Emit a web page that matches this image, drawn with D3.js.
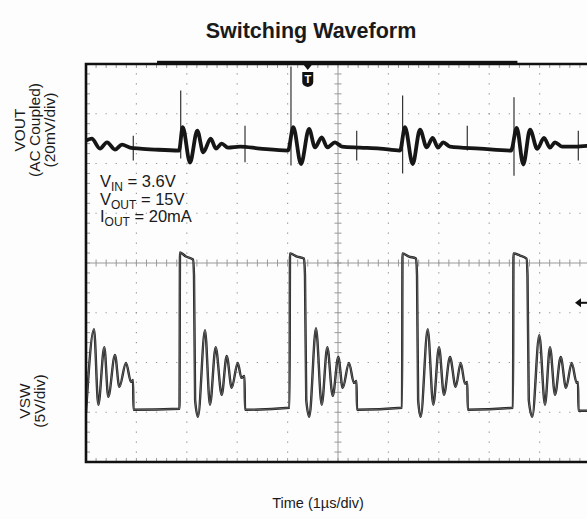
<!DOCTYPE html>
<html><head><meta charset="utf-8">
<script src="https://cdn.jsdelivr.net/npm/d3@7"></script>
<style>
html,body{margin:0;padding:0;background:#fdfdfd;}
svg{display:block;font-family:"Liberation Sans",Arial,Helvetica,sans-serif;}
</style>
</head><body>
<svg id="c" width="587" height="519"></svg>
<script>
// ---------- text ----------
const title = "Switching Waveform";
const xLabel = "Time (1µs/div)";
const voutLabel = ["VOUT", "(AC Coupled)", "(20mV/div)"];
const vswLabel = ["VSW", "(5V/div)"];
const notes = [["V", "IN", " = 3.6V"], ["V", "OUT", " = 15V"], ["I", "OUT", " = 20mA"]];

// ---------- data : VSW (time µs, volts) ----------
const vswT = [0.00,0.159,0.244,0.363,0.442,0.575,0.661,0.794,0.893,0.933,0.942,1.855,
  1.865,1.984,2.123,2.143,2.165,2.222,2.361,2.460,2.573,2.692,2.792,2.891,3.010,3.085,3.145,3.155,4.038,
  4.048,4.187,4.325,4.345,4.370,4.431,4.563,4.677,4.788,4.895,5.006,5.093,5.218,5.317,5.367,5.377,6.270,
  6.280,6.409,6.548,6.568,6.590,6.641,6.780,6.891,7.004,7.103,7.222,7.335,7.435,7.520,7.565,7.575,8.472,
  8.482,8.611,8.740,8.760,8.785,8.855,8.994,9.107,9.206,9.306,9.419,9.524,9.637,9.736,9.762,9.772,10.0];
const vswV = [-0.3,8.1,0.5,6.3,1.3,5.5,2.3,4.7,2.8,3.0,0.0,0.1,
  15.8,15.4,15.1,13.5,1.0,-0.7,8.0,0.5,6.3,1.5,5.4,2.2,4.7,3.2,3.4,0.0,0.2,
  15.7,15.4,15.2,13.5,1.0,-0.7,8.2,0.5,6.3,1.4,5.3,2.2,4.7,2.7,2.9,0.0,0.2,
  15.7,15.4,15.2,13.5,1.0,-0.7,8.1,0.5,6.3,1.5,5.3,2.3,4.7,2.6,2.8,0.0,0.2,
  15.7,15.5,15.2,13.5,1.0,-0.7,7.5,0.5,6.3,1.5,5.3,2.2,4.7,2.7,2.8,-0.1,-0.1];

// ---------- data : VOUT (time µs, mV, AC coupled) ----------
const voutT = [0.000,0.113,0.278,0.417,0.575,0.714,0.873,1.071,1.369,1.845,
  1.919,2.063,2.208,2.327,2.474,2.579,2.692,2.817,3.056,3.452,4.008,
  4.113,4.266,4.425,4.544,4.677,4.788,4.940,5.079,5.437,5.833,6.230,
  6.329,6.482,6.627,6.760,6.879,6.984,7.089,7.222,7.817,8.433,
  8.546,8.677,8.810,8.954,9.087,9.206,9.306,9.444,9.702,10.0];
const voutMV = [3.2,4.0,0.0,2.5,-0.4,1.6,0.4,0.0,-0.4,-0.8,
  8.6,-5.6,7.2,-1.5,4.0,0.0,2.0,0.4,0.8,0.0,-0.8,
  8.6,-6.2,7.9,0.5,4.5,0.5,2.5,0.8,0.4,0.0,-0.8,
  8.6,-6.2,7.6,0.5,4.3,0.4,2.5,0.8,0.0,-0.8,
  8.3,-6.4,7.6,-0.1,4.3,0.4,2.5,0.8,0.8,1.2];

// switching spikes on VOUT (time µs, top mV, bottom mV)
const spikeT      = [0.938, 1.879, 3.155, 4.067, 5.371, 6.282, 7.565, 8.492, 9.768];
const spikeTop    = [5.2, 23.3, 9.2, 33.0, 7.2, 21.3, 9.2, 20.6, 7.2];
const spikeBottom = [-4.8, -4.0, -5.5, -6.8, -4.8, -10.0, -0.8, -10.9, -4.8];

// ---------- layout ----------
const L = 86, R = 590, T = 64, B = 462;
const svg = d3.select("#c");

const gx = d3.scaleLinear().domain([0, 10]).range([L, R]);      // µs (1 µs/div)
const gy = d3.scaleLinear().domain([-4, 4]).range([B, T]);      // divisions
const yVsw = d3.scaleLinear().domain([-5.25, 34.75]).range([B, T]);  // 5 V/div
const yVout = d3.scaleLinear().domain([-126, 34]).range([B, T]);     // 20 mV/div

const gridCol = "#9a9a9a";
const g = svg.append("g");

// dotted graticule lines
d3.range(1, 10).filter(k => k !== 5).forEach(k => {
  g.append("line").attr("x1", gx(k)).attr("x2", gx(k)).attr("y1", T).attr("y2", B)
    .attr("stroke", gridCol).attr("stroke-width", 1.2)
    .attr("stroke-dasharray", "1.3 8.65").attr("stroke-dashoffset", 0.65);
});
d3.range(-3, 4).filter(k => k !== 0).forEach(k => {
  g.append("line").attr("y1", gy(k)).attr("y2", gy(k)).attr("x1", L).attr("x2", R)
    .attr("stroke", gridCol).attr("stroke-width", 1.2)
    .attr("stroke-dasharray", "1.3 8.78").attr("stroke-dashoffset", 0.65);
});

// centre axes
g.append("line").attr("x1", gx(5)).attr("x2", gx(5)).attr("y1", T).attr("y2", B)
  .attr("stroke", gridCol).attr("stroke-width", 1);
g.append("line").attr("y1", gy(0)).attr("y2", gy(0)).attr("x1", L).attr("x2", R)
  .attr("stroke", gridCol).attr("stroke-width", 1);

const minorX = d3.range(0, 50.01).map(i => i * 0.2);
const minorY = d3.range(-20, 20.01).map(i => i * 0.2);
minorX.forEach(v => {
  const x = gx(v);
  g.append("line").attr("x1", x).attr("x2", x).attr("y1", gy(0) - 3.5).attr("y2", gy(0) + 3.5)
    .attr("stroke", gridCol).attr("stroke-width", 1);
  g.append("line").attr("x1", x).attr("x2", x).attr("y1", T).attr("y2", T + 4)
    .attr("stroke", gridCol).attr("stroke-width", 1);
  g.append("line").attr("x1", x).attr("x2", x).attr("y1", B - 4).attr("y2", B)
    .attr("stroke", gridCol).attr("stroke-width", 1);
});
minorY.forEach(v => {
  const y = gy(v);
  g.append("line").attr("y1", y).attr("y2", y).attr("x1", gx(5) - 3.5).attr("x2", gx(5) + 3.5)
    .attr("stroke", gridCol).attr("stroke-width", 1);
  g.append("line").attr("y1", y).attr("y2", y).attr("x1", L).attr("x2", L + 4)
    .attr("stroke", gridCol).attr("stroke-width", 1);
});

// clip for traces
svg.append("clipPath").attr("id", "clip").append("rect")
  .attr("x", L).attr("y", T).attr("width", R - L).attr("height", B - T);
const traces = svg.append("g").attr("clip-path", "url(#clip)");

// VSW trace
const vswLine = d3.line().x(i => gx(vswT[i])).y(i => yVsw(vswV[i])).curve(d3.curveMonotoneX);
traces.append("path").attr("d", vswLine(d3.range(vswT.length)))
  .attr("fill", "none").attr("stroke", "#222").attr("stroke-width", 2.4)
  .attr("stroke-linejoin", "round");
traces.append("path").attr("d", vswLine(d3.range(vswT.length)))
  .attr("fill", "none").attr("stroke", "#8a8a8a").attr("stroke-width", 0.6);

// VOUT spikes
spikeT.forEach((t, i) => {
  traces.append("line").attr("x1", gx(t)).attr("x2", gx(t))
    .attr("y1", yVout(spikeTop[i])).attr("y2", yVout(spikeBottom[i]))
    .attr("stroke", "#333").attr("stroke-width", 1.2);
});
// VOUT trace
const voutLine = d3.line().x(i => gx(voutT[i])).y(i => yVout(voutMV[i])).curve(d3.curveMonotoneX);
traces.append("path").attr("d", voutLine(d3.range(voutT.length)))
  .attr("fill", "none").attr("stroke", "#161616").attr("stroke-width", 3.8)
  .attr("stroke-linejoin", "round");

// frame
svg.append("path")
  .attr("d", `M${R},${B}H${L}V${T}H${R}`)
  .attr("fill", "none").attr("stroke", "#111").attr("stroke-width", 2.6);
// record bar on top
svg.append("rect").attr("x", gx(1.41)).attr("y", T - 3.2).attr("width", gx(8.56) - gx(1.41)).attr("height", 4)
  .attr("fill", "#111");

// trigger position marker
const tx = gx(4.4);
svg.append("path").attr("d", `M${tx - 4},${T + 1}L${tx + 4},${T + 1}L${tx},${T + 6}Z`).attr("fill", "#111");
svg.append("path")
  .attr("d", `M${tx - 5.5},${T + 8}H${tx + 5.5}V${T + 18}Q${tx + 5.5},${T + 22} ${tx},${T + 23}Q${tx - 5.5},${T + 22} ${tx - 5.5},${T + 18}Z`)
  .attr("fill", "#111");
svg.append("text").attr("x", tx).attr("y", T + 19).attr("text-anchor", "middle")
  .attr("font-size", 11).attr("font-weight", "bold").attr("fill", "#fff").text("T");

// trigger level arrow (right edge)
const ay = yVsw(10.75);
svg.append("path").attr("d", `M575,${ay}L581,${ay - 4.5}L581,${ay + 4.5}Z`).attr("fill", "#111");
svg.append("line").attr("x1", 580).attr("x2", 587).attr("y1", ay).attr("y2", ay)
  .attr("stroke", "#111").attr("stroke-width", 2);

// title
svg.append("text").attr("x", 311).attr("y", 38).attr("text-anchor", "middle")
  .attr("font-size", 21.5).attr("font-weight", "bold").attr("fill", "#1a1a1a").text(title);

// x label
svg.append("text").attr("x", 318).attr("y", 508).attr("text-anchor", "middle")
  .attr("font-size", 14.5).attr("fill", "#1a1a1a").text(xLabel);

// y labels
voutLabel.forEach((s, i) => {
  svg.append("text").attr("transform", `translate(${25 + i * 15},130) rotate(-90)`)
    .attr("text-anchor", "middle").attr("font-size", 15.5).attr("fill", "#1a1a1a").text(s);
});
vswLabel.forEach((s, i) => {
  svg.append("text").attr("transform", `translate(${30 + i * 15},401) rotate(-90)`)
    .attr("text-anchor", "middle").attr("font-size", 15.5).attr("fill", "#1a1a1a").text(s);
});

// annotation
notes.forEach((n, i) => {
  const t = svg.append("text").attr("x", 100).attr("y", 187 + i * 17.5)
    .attr("font-size", 16.5).attr("fill", "#1a1a1a");
  t.append("tspan").text(n[0]);
  t.append("tspan").attr("font-size", 12).attr("dy", 4).text(n[1]);
  t.append("tspan").attr("dy", -4).text(n[2]);
});
</script>
</body></html>
